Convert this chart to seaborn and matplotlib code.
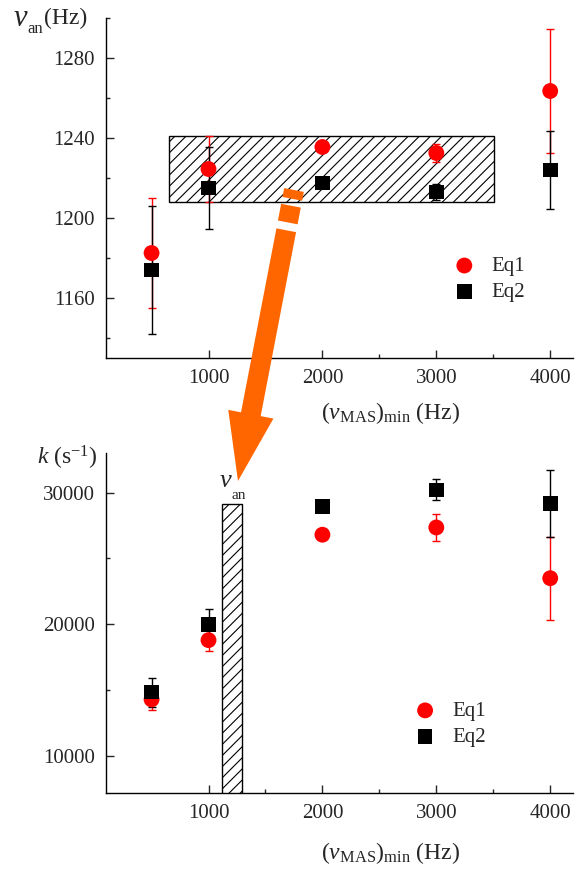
import numpy as np
import seaborn as sns
import matplotlib.pyplot as plt
from matplotlib.patches import Rectangle, Polygon

sns.set_style('ticks')
plt.rcParams['font.family'] = ['Liberation Serif', 'DejaVu Serif']
plt.rcParams['mathtext.fontset'] = 'custom'
plt.rcParams['mathtext.rm'] = 'Liberation Serif'
plt.rcParams['mathtext.it'] = 'Liberation Serif:italic'
plt.rcParams['hatch.linewidth'] = 0.8

# data
mas_min = [500, 1000, 2000, 3000, 4000]
nu_eq1 = [1182.5, 1224.5, 1235.5, 1232.5, 1263.5]
nu_eq1_err = [27.5, 16.5, 2, 4.5, 31]
nu_eq2 = [1174, 1215, 1217.5, 1213, 1224]
nu_eq2_err = [32, 20.5, 2, 4, 19.5]
k_eq1 = [14300, 18800, 26800, 27350, 23500]
k_eq1_err = [800, 850, 300, 1050, 3150]
k_eq2 = [14850, 20000, 28950, 30200, 29150]
k_eq2_err = [1100, 1150, 300, 800, 2550]

# nu_an band (x range, y range) and k bar
band_x = (650, 3510)
band_nu = (1208, 1241)
bar_x = (1120, 1290)
bar_k = 29150

W, H = 581, 869
fig = plt.figure(figsize=(W / 100, H / 100), dpi=100)
ax1 = fig.add_axes([106 / W, 1 - 358 / H, 467 / W, 340 / H])
ax2 = fig.add_axes([106 / W, 1 - 793 / H, 467 / W, 340 / H])


def draw_series(ax, y1, e1, y2, e2):
    ax.errorbar(mas_min, y1, yerr=e1, fmt='none', ecolor='red', elinewidth=1, capsize=3, capthick=1, zorder=3)
    ax.errorbar(mas_min, y2, yerr=e2, fmt='none', ecolor='black', elinewidth=1, capsize=3, capthick=1, zorder=3)
    sns.scatterplot(x=mas_min, y=y1, ax=ax, color='red', marker='o', s=130, edgecolor='none', label='Eq1', zorder=4)
    sns.scatterplot(x=mas_min, y=y2, ax=ax, color='black', marker='s', s=110, edgecolor='none', label='Eq2', zorder=4)


def style_axis(ax):
    sns.despine(ax=ax)
    ax.set_xlim(100, 4200)
    ax.set_xticks([1000, 2000, 3000, 4000])
    ax.set_xticks([1500, 2500, 3500], minor=True)
    ax.tick_params(direction='in', which='major', length=6, width=1, labelsize=15, pad=8)
    ax.tick_params(direction='in', which='minor', length=3, width=1)
    for s in ['left', 'bottom']:
        ax.spines[s].set_linewidth(1)
        ax.spines[s].set_color('black')
    ax.set_xlabel('')
    ax.set_ylabel('')


# top panel
draw_series(ax1, nu_eq1, nu_eq1_err, nu_eq2, nu_eq2_err)
ax1.add_patch(Rectangle((band_x[0], band_nu[0]), band_x[1] - band_x[0], band_nu[1] - band_nu[0],
                        facecolor='none', edgecolor='black', hatch='///', linewidth=1, zorder=2))
style_axis(ax1)
ax1.set_ylim(1130, 1300)
ax1.set_yticks([1160, 1200, 1240, 1280])
ax1.set_yticks([1140, 1180, 1220, 1260, 1300], minor=True)
ax1.legend(loc='center', bbox_to_anchor=(0.81, 0.232), frameon=False, fontsize=15,
           handletextpad=0.3, labelspacing=0.3, markerscale=1.0)

# bottom panel
draw_series(ax2, k_eq1, k_eq1_err, k_eq2, k_eq2_err)
ax2.add_patch(Rectangle((bar_x[0], 6000), bar_x[1] - bar_x[0], bar_k - 6000,
                        facecolor='none', edgecolor='black', hatch='///', linewidth=1, zorder=2, clip_on=True))
style_axis(ax2)
ax2.set_ylim(7200, 33000)
ax2.set_yticks([10000, 20000, 30000])
ax2.set_yticks([15000, 25000], minor=True)
ax2.legend(loc='center', bbox_to_anchor=(0.726, 0.203), frameon=False, fontsize=15,
           handletextpad=0.3, labelspacing=0.3)


def ftext(x, y, s, **kw):
    fig.text(x / W, 1 - y / H, s, **kw)


# axis labels
ftext(13, 19, r'$\nu$', fontsize=22, va='center', ha='left')
ftext(27, 29, 'an', fontsize=12, va='center', ha='left')
ftext(44, 18, '(Hz)', fontsize=17, va='center', ha='left')
ftext(37, 458, r'$k$ (s$^{-1}$)', fontsize=17, va='center', ha='left')
ftext(391, 413, r'$(\nu_{\rm MAS})_{\rm min}$ (Hz)', fontsize=17, va='center', ha='center')
ftext(391, 853, r'$(\nu_{\rm MAS})_{\rm min}$ (Hz)', fontsize=17, va='center', ha='center')
ftext(219, 481, r'$\nu$', fontsize=19, va='center', ha='left')
ftext(231, 495, 'an', fontsize=11, va='center', ha='left')

# orange arrow (pixel geometry, y down), drawn in pieces
tail = np.array([294.0, 190.0])
tip = np.array([238.0, 481.0])
u = (tip - tail) / np.linalg.norm(tip - tail)
n = np.array([u[1], -u[0]])
L = np.linalg.norm(tip - tail)
hw, head_len, head_hw = 10, 68, 23


def to_fig(pts):
    return [(p[0] / W, 1 - p[1] / H) for p in pts]


for t0, t1 in [(0, 9), (16, 33)]:
    a, b = tail + u * t0, tail + u * t1
    pts = [a + n * hw, b + n * hw, b - n * hw, a - n * hw]
    fig.add_artist(Polygon(to_fig(pts), closed=True, facecolor='#ff6600', edgecolor='none', zorder=10))

a = tail + u * 41
hb = tail + u * (L - head_len)
pts = [a + n * hw, hb + n * hw, hb + n * head_hw, tip, hb - n * head_hw, hb - n * hw, a - n * hw]
fig.add_artist(Polygon(to_fig(pts), closed=True, facecolor='#ff6600', edgecolor='none', zorder=10))

fig.savefig('out.png', dpi=100)
